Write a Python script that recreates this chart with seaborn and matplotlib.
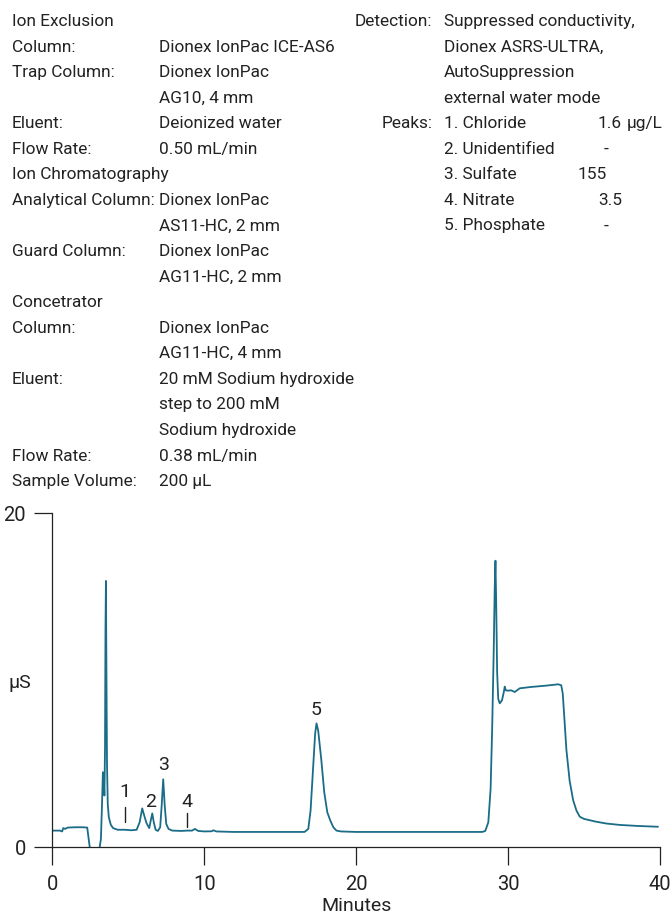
import matplotlib
matplotlib.use("Agg")
import matplotlib.pyplot as plt
import seaborn as sns
import pandas as pd

# ---- data ----
time_min = [0.0, 0.5, 0.65, 0.72, 0.85, 1.0, 1.5, 2.0, 2.3, 2.38, 2.48, 3.1, 3.2, 3.27, 3.33,
            3.38, 3.43, 3.47, 3.5, 3.53, 3.56, 3.6, 3.65, 3.72, 3.85, 4.0, 4.3, 4.78, 5.2,
            5.55, 5.75, 5.92, 6.05, 6.2, 6.38, 6.48, 6.58, 6.68, 6.8, 6.95, 7.1, 7.2, 7.3,
            7.4, 7.5, 7.65, 7.9, 8.5, 8.88, 9.2, 9.39, 9.6, 10.0, 10.5, 10.6, 10.8, 11.9,
            16.6, 16.85, 17.0, 17.15, 17.3, 17.39, 17.5, 17.7, 17.9, 18.1, 18.3, 18.5, 18.7,
            19.0, 20.0, 28.3, 28.5, 28.7, 28.85, 28.95, 29.05, 29.12, 29.17, 29.22, 29.28,
            29.35, 29.45, 29.6, 29.72, 29.78, 29.85, 30.0, 30.2, 30.44, 30.77, 31.5, 32.5,
            33.3, 33.5, 33.6, 33.84, 34.05, 34.28, 34.5, 34.72, 35.0, 35.81, 36.5, 37.35,
            38.5, 39.87]
signal_uS = [1.0, 1.0, 0.95, 1.15, 1.1, 1.18, 1.2, 1.2, 1.18, 0.6, -0.1, -0.1, 0.5, 2.5, 4.5,
             4.2, 3.1, 6.0, 13.0, 15.95, 11.0, 5.0, 2.6, 1.8, 1.35, 1.15, 1.05, 1.05, 1.02,
             1.05, 1.5, 2.33, 1.9, 1.45, 1.15, 1.6, 2.03, 1.5, 1.05, 0.98, 1.2, 2.5, 4.07,
             2.5, 1.4, 1.1, 1.0, 0.98, 1.0, 1.0, 1.1, 0.98, 0.95, 0.96, 1.02, 0.95, 0.92,
             0.92, 1.1, 2.2, 4.5, 6.8, 7.42, 7.0, 5.3, 3.3, 2.1, 1.6, 1.2, 1.0,
             0.95, 0.92, 0.92, 0.98, 1.5, 3.5, 7.0, 11.5, 15.5, 17.16, 14.5, 10.5,
             8.9, 8.62, 8.8, 9.3, 9.62, 9.4, 9.38, 9.4, 9.3, 9.52, 9.6, 9.68,
             9.76, 9.7, 9.2, 5.83, 4.0, 2.83, 2.2, 1.83, 1.7, 1.53, 1.42, 1.34,
             1.28, 1.23]

peak_labels = ["1", "2", "3", "4", "5"]
peak_label_x = [4.78, 6.5, 7.3, 8.88, 17.39]
peak_label_y = [3.3, 2.73, 4.93, 2.73, 8.2]
marker_x = [4.78, 8.88]
marker_y0 = [1.53, 1.23]
marker_y1 = [2.43, 2.05]

x_ticks = [0, 10, 20, 30, 40]
y_ticks = [0, 20]

left_labels = ["Ion Exclusion", "Column:", "Trap Column:", "", "Eluent:", "Flow Rate:",
               "Ion Chromatography", "Analytical Column:", "", "Guard Column:", "",
               "Concetrator", "Column:", "", "Eluent:", "", "", "Flow Rate:", "Sample Volume:"]
left_values = ["", "Dionex IonPac ICE-AS6", "Dionex IonPac", "AG10, 4 mm", "Deionized water",
               "0.50 mL/min", "", "Dionex IonPac", "AS11-HC, 2 mm", "Dionex IonPac",
               "AG11-HC, 2 mm", "", "Dionex IonPac", "AG11-HC, 4 mm", "20 mM Sodium hydroxide",
               "step to 200 mM", "Sodium hydroxide", "0.38 mL/min", "200 µL"]
detection_lines = ["Suppressed conductivity,", "Dionex ASRS-ULTRA,", "AutoSuppression",
                   "external water mode"]
peak_names = ["1. Chloride", "2. Unidentified", "3. Sulfate", "4. Nitrate", "5. Phosphate"]
peak_amounts = ["1.6", "-", "155", "3.5", "-"]
peak_unit = "µg/L"

# ---- style ----
sns.set_style("ticks")
FONT = ["Liberation Sans Narrow", "Roboto", "DejaVu Sans"]
plt.rcParams["font.family"] = FONT
plt.rcParams["text.color"] = "#222222"

W, H = 670, 918
fig = plt.figure(figsize=(W / 100, H / 100), dpi=100)

def fx(px):
    return px / W

def fy(py):
    return 1 - py / H

# axes placement
ax = fig.add_axes([fx(52.3), fy(847.3), (660 - 52.3) / W, (847.3 - 513.3) / H])

df = pd.DataFrame({"Minutes": time_min, "uS": signal_uS})
sns.lineplot(data=df, x="Minutes", y="uS", ax=ax, color="#1a6c87", linewidth=1.3,
             estimator=None, sort=False)

ax.set_xlim(0, 40)
ax.set_ylim(0, 20)
ax.set_xticks(x_ticks)
ax.set_yticks(y_ticks)
ax.tick_params(direction="out", length=13, width=0.9, colors="#222222", labelsize=14.5,
               pad=6)
ax.tick_params(axis="x", pad=7)
for s in ["top", "right"]:
    ax.spines[s].set_visible(False)
for s in ["left", "bottom"]:
    ax.spines[s].set_linewidth(0.9)
    ax.spines[s].set_color("#222222")
    ax.spines[s].set_zorder(5)
ax.set_xlabel("Minutes", fontsize=14, labelpad=2, color="#222222")
ax.set_ylabel("")
fig.text(fx(9), fy(683), "µS", fontsize=14, va="center", ha="left")

for lab, x, y in zip(peak_labels, peak_label_x, peak_label_y):
    ax.text(x, y, lab, fontsize=14, ha="center", va="center")
for x, y0, y1 in zip(marker_x, marker_y0, marker_y1):
    ax.plot([x, x], [y0, y1], color="#222222", lw=1.0)

# ---- header text ----
TS = 12.4
line_y = [20 + 25.56 * i for i in range(19)]
for lab, val, y in zip(left_labels, left_values, line_y):
    if lab:
        fig.text(fx(12), fy(y + 6), lab, fontsize=TS, va="baseline", ha="left")
    if val:
        fig.text(fx(159), fy(y + 6), val, fontsize=TS, va="baseline", ha="left")

fig.text(fx(355), fy(line_y[0] + 6), "Detection:", fontsize=TS, va="baseline", ha="left")
for i, t in enumerate(detection_lines):
    fig.text(fx(444), fy(line_y[i] + 6), t, fontsize=TS, va="baseline", ha="left")
fig.text(fx(382), fy(line_y[4] + 6), "Peaks:", fontsize=TS, va="baseline", ha="left")
amount_x = [622, 606, 607, 622, 606]
amount_ha = ["right", "center", "right", "right", "center"]
for i, (n, a) in enumerate(zip(peak_names, peak_amounts)):
    y = line_y[4 + i] + 6
    fig.text(fx(444), fy(y), n, fontsize=TS, va="baseline", ha="left")
    fig.text(fx(amount_x[i]), fy(y), a, fontsize=TS, va="baseline", ha=amount_ha[i])
fig.text(fx(627), fy(line_y[4] + 6), peak_unit, fontsize=TS, va="baseline", ha="left")

fig.savefig("out.png", dpi=100)
